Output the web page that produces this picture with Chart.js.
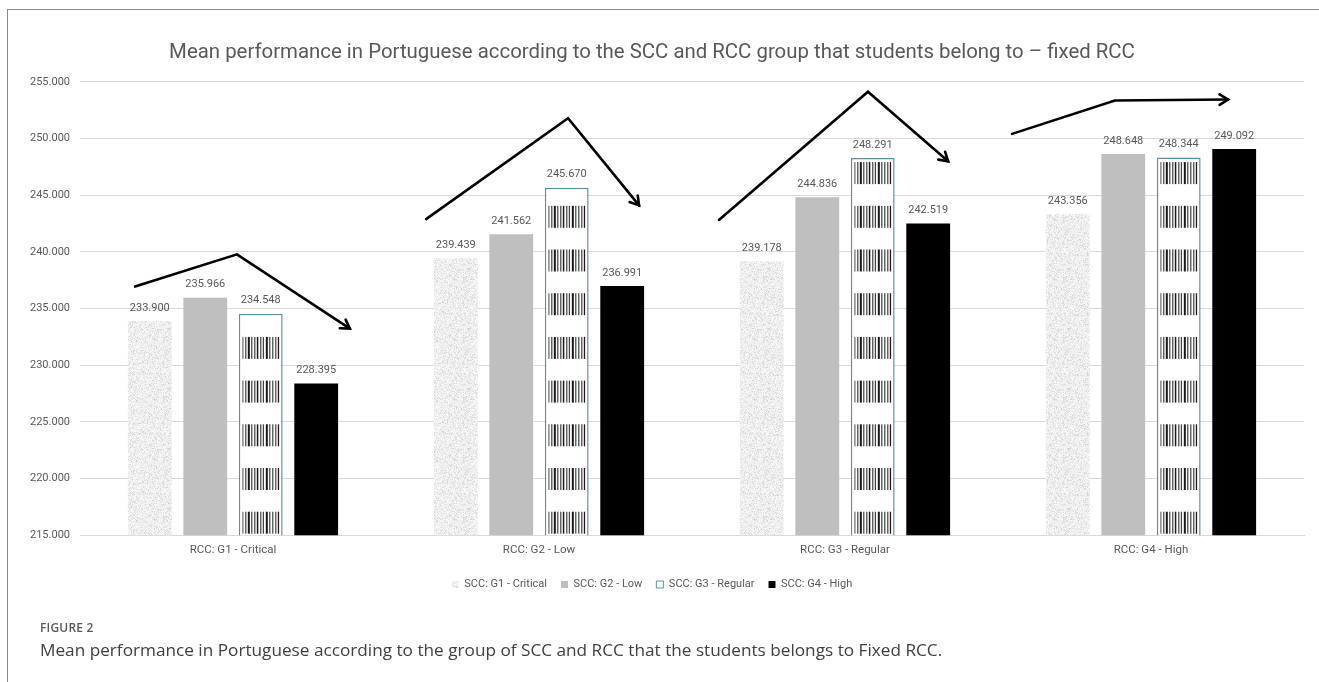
<!DOCTYPE html>
<html>
<head>
<meta charset="utf-8">
<script src="https://cdn.jsdelivr.net/npm/chart.js@4.4.1/dist/chart.umd.min.js"></script>
<style>
  html, body { margin: 0; padding: 0; background: #fff; }
  body { width: 1319px; height: 682px; position: relative; overflow: hidden; }
  #frame { position: absolute; left: 7px; top: 9px; width: 1320px; height: 680px;
           border-left: 1.5px solid #8a8a8a; border-top: 1.5px solid #8a8a8a; }
  #wrap { position: absolute; left: 0; top: 0; width: 1319px; height: 682px; }
  .fig { position: absolute; left: 40px; font-family: 'Open Sans', sans-serif; white-space: nowrap; }
  #figno { top: 619px; font-size: 12px; font-weight: 600; color: #5a5a5a; letter-spacing: 0.2px; }
  #figcap { top: 638px; font-size: 17.2px; color: #404040; }
</style>
</head>
<body>
<div id="frame"></div>
<div id="wrap"><canvas id="myChart"></canvas></div>
<div class="fig" id="figno">FIGURE 2</div>
<div class="fig" id="figcap">Mean performance in Portuguese according to the group of SCC and RCC that the students belongs to Fixed RCC.</div>
<script>
// Datos del gráfico
const categorias = ['RCC: G1 - Critical', 'RCC: G2 - Low', 'RCC: G3 - Regular', 'RCC: G4 - High'];
const series = ['SCC: G1 - Critical', 'SCC: G2 - Low', 'SCC: G3 - Regular', 'SCC: G4 - High'];
const sccG1 = [233.900, 239.439, 239.178, 243.356];
const sccG2 = [235.966, 241.562, 244.836, 248.648];
const sccG3 = [234.548, 245.670, 248.291, 248.344];
const sccG4 = [228.395, 236.991, 242.519, 249.092];
const yMin = 215, yMax = 255, yStep = 5;

// Flechas dibujadas a mano: [posición de categoría, valor]
const flechas = [
  [[-0.32, 236.94], [0.013, 239.79], [0.382, 233.23]],
  [[0.631, 242.90], [1.095, 251.80], [1.327, 244.11]],
  [[1.588, 242.82], [2.075, 254.14], [2.337, 248.00]],
  [[2.546, 250.42], [2.882, 253.36], [3.252, 253.45]]
];

const ctx = document.getElementById('myChart');
const g = ctx.getContext('2d');

// textura moteada para la primera serie
function textura() {
  const t = document.createElement('canvas');
  t.width = 60; t.height = 60;
  const c = t.getContext('2d');
  c.fillStyle = '#ededed';
  c.fillRect(0, 0, 60, 60);
  for (let y = 0; y < 60; y++) {
    for (let x = 0; x < 60; x++) {
      const h = Math.sin(x * 12.9898 + y * 78.233) * 43758.5453;
      const r = h - Math.floor(h);
      if (r < 0.16) { c.fillStyle = '#d9d9d9'; c.fillRect(x, y, 1, 1); }
      else if (r > 0.7) { c.fillStyle = '#f8f8f8'; c.fillRect(x, y, 1, 1); }
    }
  }
  return g.createPattern(t, 'repeat');
}
const moteado = textura();

const gris = '#595959';

// rayas tipo código de barras (barra, hueco, barra, hueco...)
const barras = [1, 2, 1, 1.5, 2, 1.5, 1, 2, 1, 1.5, 1.5, 2, 1, 1.5, 1, 2, 2, 1.5, 1, 2];

const codigoBarras = {
  id: 'codigoBarras',
  afterDatasetDraw(chart, args) {
    if (args.index !== 2) return;
    const c = chart.ctx;
    args.meta.data.forEach(bar => {
      const left = bar.x - bar.width / 2 + 3.5, right = bar.x + bar.width / 2 - 3.5;
      const top = bar.y + 2, bottom = Math.min(bar.base, chart.chartArea.bottom) - 1;
      c.save();
      c.beginPath();
      c.rect(left, top, right - left, bottom - top);
      c.clip();
      c.fillStyle = '#1a1a1a';
      const periodo = 43.7, fase = 31;
      let by = fase + Math.floor((top - fase) / periodo) * periodo;
      for (; by < bottom; by += periodo) {
        let x = left, i = 0;
        while (x < right) {
          const w = barras[i % barras.length];
          if (i % 2 === 0) c.fillRect(x, by, w, 22);
          x += w;
          i++;
        }
      }
      c.restore();
    });
  }
};

const etiquetas = {
  id: 'etiquetas',
  afterDatasetsDraw(chart) {
    const c = chart.ctx;
    c.save();
    c.font = "11px Roboto";
    c.fillStyle = gris;
    c.textAlign = 'center';
    c.textBaseline = 'middle';
    chart.data.datasets.forEach((ds, di) => {
      chart.getDatasetMeta(di).data.forEach((bar, i) => {
        c.fillText(ds.data[i].toFixed(3), bar.x, bar.y - 13);
      });
    });
    c.restore();
  }
};

const dibujoFlechas = {
  id: 'dibujoFlechas',
  afterDraw(chart) {
    const xs = chart.scales.x, ys = chart.scales.y;
    const x0 = xs.getPixelForValue(0), paso = xs.getPixelForValue(1) - x0;
    const c = chart.ctx;
    c.save();
    c.strokeStyle = '#000';
    c.lineWidth = 2.6;
    c.lineCap = 'round';
    c.lineJoin = 'miter';
    flechas.forEach(f => {
      const pts = f.map(p => [x0 + p[0] * paso, ys.getPixelForValue(p[1])]);
      c.beginPath();
      c.moveTo(pts[0][0], pts[0][1]);
      for (let k = 1; k < pts.length; k++) c.lineTo(pts[k][0], pts[k][1]);
      c.stroke();
      const a = pts[pts.length - 2], b = pts[pts.length - 1];
      const ang = Math.atan2(b[1] - a[1], b[0] - a[0]);
      c.beginPath();
      c.moveTo(b[0] - 10 * Math.cos(ang - 0.55), b[1] - 10 * Math.sin(ang - 0.55));
      c.lineTo(b[0], b[1]);
      c.lineTo(b[0] - 10 * Math.cos(ang + 0.55), b[1] - 10 * Math.sin(ang + 0.55));
      c.stroke();
    });
    c.restore();
  }
};

new Chart(ctx, {
  type: 'bar',
  data: {
    labels: categorias,
    datasets: [
      { label: series[0], data: sccG1, backgroundColor: moteado, borderWidth: 0 },
      { label: series[1], data: sccG2, backgroundColor: '#bfbfbf', borderWidth: 0 },
      { label: series[2], data: sccG3, backgroundColor: '#ffffff', borderColor: '#5b8fa6', borderWidth: 1.5, borderSkipped: false },
      { label: series[3], data: sccG4, backgroundColor: '#000000', borderWidth: 0 }
    ]
  },
  options: {
    responsive: true,
    maintainAspectRatio: false,
    animation: false,
    layout: { padding: { left: 0, right: 15, top: 9, bottom: 82 } },
    datasets: { bar: { categoryPercentage: 0.725, barPercentage: 0.79 } },
    scales: {
      x: {
        grid: { display: false, drawTicks: false },
        border: { color: '#d9d9d9' },
        ticks: { color: gris, font: { family: 'Roboto', size: 11.5 }, padding: 8 }
      },
      y: {
        min: yMin,
        max: yMax,
        afterFit(scale) { scale.width = 80; },
        grid: { color: '#d9d9d9', drawTicks: false },
        border: { display: false },
        ticks: {
          stepSize: yStep,
          padding: 10,
          color: gris,
          font: { family: 'Roboto', size: 11 },
          callback: v => v.toFixed(3)
        }
      }
    },
    plugins: {
      title: {
        display: true,
        text: 'Mean performance in Portuguese according to the SCC and RCC group that students belong to – fixed RCC',
        color: gris,
        font: { family: 'Roboto', size: 20.4, weight: 400 },
        padding: { top: 32, bottom: 16.5 }
      },
      legend: {
        position: 'bottom',
        labels: {
          boxWidth: 7,
          boxHeight: 7,
          padding: 14,
          color: gris,
          font: { family: 'Roboto', size: 11 },
          generateLabels(chart) {
            return chart.data.datasets.map((ds, i) => ({
              text: ds.label,
              fillStyle: ds.backgroundColor,
              strokeStyle: i === 2 ? '#5b8fa6' : ds.backgroundColor,
              lineWidth: i === 2 ? 1 : 0,
              fontColor: gris,
              datasetIndex: i
            }));
          }
        }
      },
      tooltip: { enabled: false }
    }
  },
  plugins: [codigoBarras, etiquetas, dibujoFlechas]
});
</script>
</body>
</html>
